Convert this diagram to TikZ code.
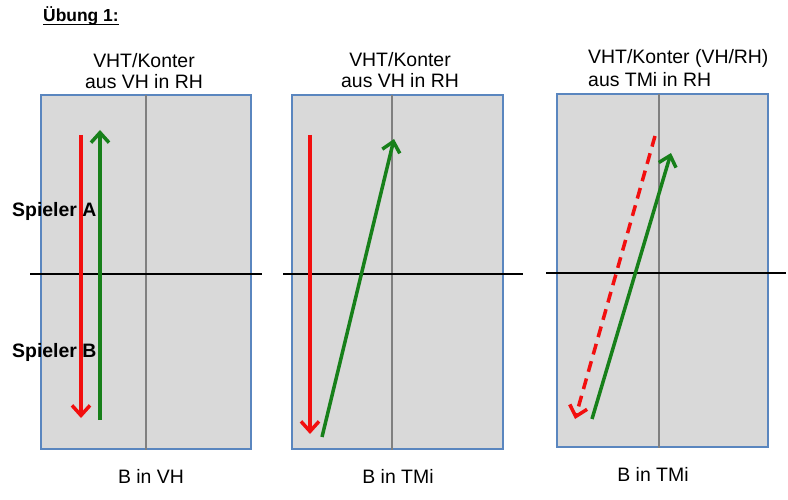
\documentclass[tikz,border=0pt]{standalone}
\usepackage{fontspec}
\setmainfont{Liberation Sans}
\usetikzlibrary{arrows.meta,positioning}
\definecolor{courtfill}{HTML}{D9D9D9}
\definecolor{courtedge}{HTML}{5A86BF}
\definecolor{ballred}{HTML}{F20F0F}
\definecolor{ballgreen}{HTML}{17801A}
\newcommand*{\capsize}{\fontsize{19.5}{22}\selectfont}

\begin{document}
\begin{tikzpicture}[x=1bp, y=-1bp, >={Straight Barb[length=10bp,width=18bp]}]
    \tikzstyle{court}=[fill=courtfill,draw=courtedge,line width=1.5bp]
    \tikzstyle{midline}=[draw=gray,line width=1.5bp]
    \tikzstyle{net}=[draw=black,line width=2bp]
    \tikzstyle{shot}=[->,line width=3.5bp]
    \tikzstyle{txt}=[inner sep=0pt,font=\capsize]
    \useasboundingbox (0,0) rectangle (788,500);
    % courts
    \draw[court] (41,95) rectangle (251,449);
    \draw[court] (292,95) rectangle (503,449);
    \draw[court] (557,94) rectangle (768,447);
    \draw[midline] (146,95) -- (146,450);
    \draw[midline] (392,95) -- (392,450);
    \draw[midline] (659,94) -- (659,448);
    \draw[net] (30,274) -- (262,274);
    \draw[net] (283,274) -- (523,274);
    \draw[net] (546,273) -- (786,273);
    % ball paths
    \coordinate (a1) at (81,135);   \coordinate (b1) at (81,418);
    \coordinate (c1) at (100,420);  \coordinate (d1) at (100,130);
    \coordinate (a2) at (310,135);  \coordinate (b2) at (310,434);
    \coordinate (c2) at (322,437);  \coordinate (d2) at (394,139);
    \coordinate (a3) at (655,136);  \coordinate (b3) at (575,419);
    \coordinate (c3) at (592,419);  \coordinate (d3) at (671,153);
    \path
(a1) edge[shot,ballred]   (b1)
(c1) edge[shot,ballgreen] (d1)
(a2) edge[shot,ballred]   (b2)
(c2) edge[shot,ballgreen] (d2)
(a3) edge[shot,ballred,dash pattern=on 11bp off 7bp] (b3)
(c3) edge[shot,ballgreen] (d3);
    % texts
    \node[txt,anchor=base west,font=\fontsize{17.5}{20}\selectfont\bfseries] (title) at (43,22) {Übung 1:};
    \draw[line width=1.3bp] ([yshift=-2.5bp]title.base west) -- ([yshift=-2.5bp]title.base east);
    \node[txt,anchor=base,align=center] (head1) at (144,89) {VHT/Konter\\aus VH in RH};
    \node[txt,anchor=base,align=center] (head2) at (400,88) {VHT/Konter\\aus VH in RH};
    \node[txt,anchor=base west,align=left,font=\fontsize{19.5}{24}\selectfont] (head3) at (588,87) {VHT/Konter (VH/RH)\\aus TMi in RH};
    \node[txt,anchor=base west,font=\capsize\bfseries] (playerA) at (12,217) {Spieler A};
    \node[txt,anchor=base west,font=\capsize\bfseries] (playerB) at (12,357) {Spieler B};
    \node[txt,anchor=base] (foot1) at (151,483) {B in VH};
    \node[txt,anchor=base] (foot2) at (398,483) {B in TMi};
    \node[txt,anchor=base] (foot3) at (653,481) {B in TMi};
\end{tikzpicture}
\end{document}
